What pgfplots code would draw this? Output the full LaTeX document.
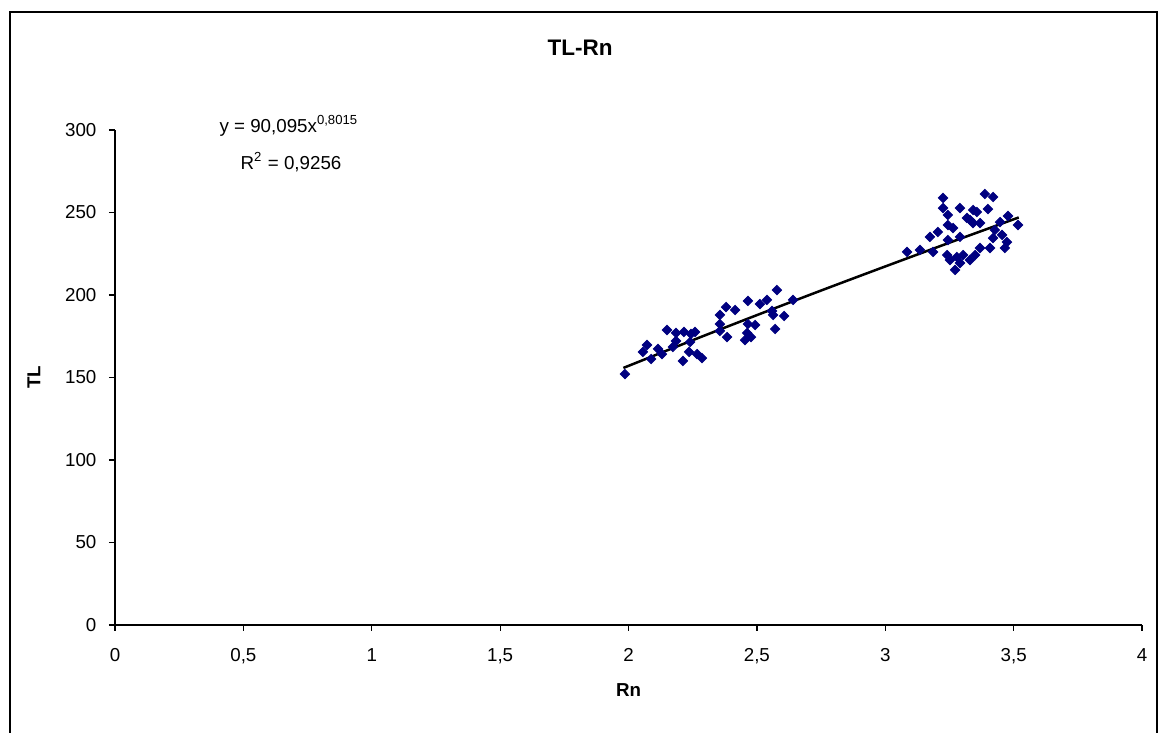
\documentclass[border=0pt]{standalone}
\usepackage{pgfplots}
\pgfplotsset{compat=1.18}
\usepackage{fontspec}
\setmainfont{Liberation Sans}
\definecolor{ptnavy}{RGB}{0,0,128}

% measured points (Rn, TL)
\pgfplotstableread{
x y
1.986 152.1
2.072 169.7
2.056 165.5
2.088 161.2
2.115 167.3
2.130 164.2
2.150 178.8
2.185 177.0
2.185 172.1
2.173 168.5
2.216 177.6
2.212 160.0
2.243 176.4
2.259 177.6
2.240 171.5
2.236 165.5
2.267 164.2
2.286 161.8
2.356 187.9
2.380 192.7
2.415 190.9
2.356 182.4
2.356 178.2
2.384 174.5
2.465 196.4
2.512 194.5
2.539 197.0
2.578 203.0
2.641 197.0
2.465 182.4
2.493 181.8
2.462 177.0
2.454 172.7
2.477 174.5
2.559 190.3
2.563 187.9
2.606 187.3
2.571 179.4
3.225 258.8
3.225 252.7
3.291 252.7
3.244 248.5
3.342 251.5
3.318 246.7
3.244 242.4
3.264 240.6
3.205 238.2
3.174 235.2
3.291 235.2
3.244 233.3
3.085 226.1
3.135 227.3
3.186 226.1
3.241 224.2
3.279 223.0
3.303 224.2
3.252 221.2
3.291 219.4
3.272 215.2
3.330 245.5
3.388 261.2
3.420 259.4
3.400 252.1
3.357 250.3
3.369 243.6
3.342 243.6
3.478 247.9
3.517 242.4
3.447 244.2
3.427 239.4
3.455 236.4
3.420 234.5
3.474 232.1
3.466 228.5
3.408 228.5
3.369 228.5
3.350 224.2
3.330 221.2
}\pointdata

% power trend line y = 90.095 x^0.8015
\pgfplotstableread{
x y
1.98 155.8
2.25 172.6
2.50 187.8
2.75 202.7
3.00 217.3
3.25 231.7
3.52 247.0
}\trenddata

\begin{document}
\begin{tikzpicture}[x=0.4pt,y=0.4pt,font=\fontsize{7.5}{9}\selectfont]
\useasboundingbox (0,0) rectangle (1160,733);
\draw[line width=0.6pt] (10,-10) -- (10,721) -- (1157,721) -- (1157,-10);
\node[font=\fontsize{9}{11}\selectfont\bfseries] at (580,685) {TL-Rn};
\node at (289,607) {y = 90,095x\textsuperscript{0,8015}};
\node at (291,571) {R\textsuperscript{2} = 0,9256};
\begin{axis}[
    at={(46pt,43.2pt)}, anchor=south west,
    scale only axis,
    width=410.8pt, height=198pt,
    xmin=0, xmax=4, ymin=0, ymax=300,
    xtick={0,0.5,...,4},
    ytick={0,50,...,300},
    axis lines*=left,
    axis line style={-, line width=0.6pt},
    tick align=outside,
    major tick length=2.4pt,
    tick style={black, line width=0.5pt},
    /pgf/number format/use comma,
    /pgf/number format/assume math mode=true,
    ticklabel style={font=\fontsize{7.5}{9}\selectfont},
    xticklabel style={yshift=-3.5pt},
    yticklabel style={xshift=-1.5pt},
    xlabel={\bfseries Rn},
    ylabel={\bfseries TL},
    xlabel style={yshift=-1pt},
    ylabel style={yshift=3pt},
    clip=false,
]
\addplot[only marks, mark=square*, mark size=1.3pt,
    mark options={rotate=45, fill=ptnavy, draw=ptnavy}] table {\pointdata};
\addplot[black, line width=1pt, smooth] table {\trenddata};
\end{axis}
\end{tikzpicture}
\end{document}
